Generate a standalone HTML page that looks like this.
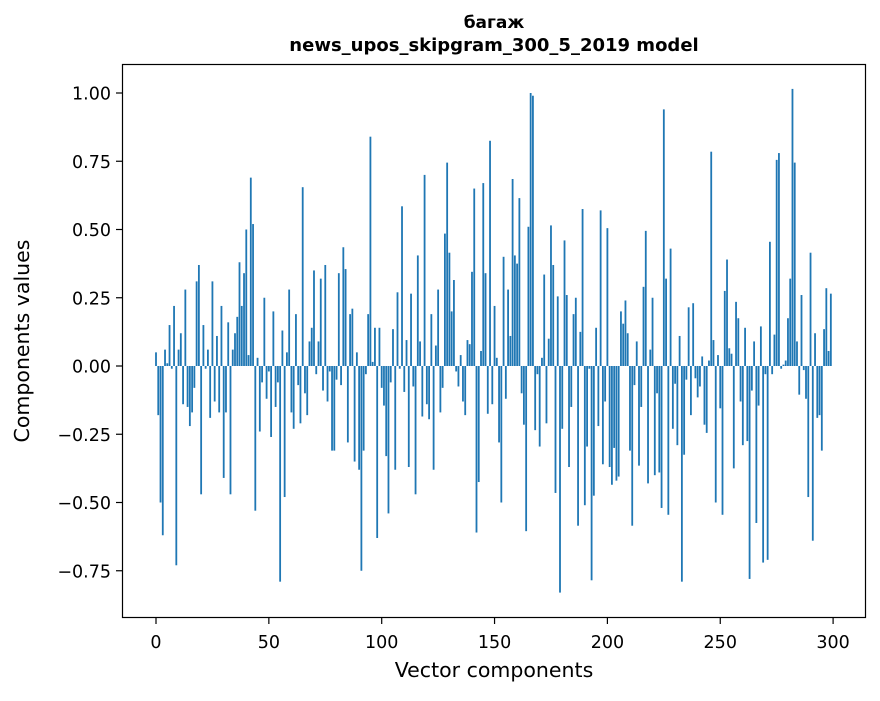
<!DOCTYPE html>
<html><head><meta charset="utf-8"><style>
body{margin:0;background:#fff;}
svg text{font-family:"DejaVu Sans","Liberation Sans",sans-serif;}
</style></head><body>
<svg id="chart" width="880" height="696" xmlns="http://www.w3.org/2000/svg">
<rect width="880" height="696" fill="#fff"/>
<text x="494" y="28" text-anchor="middle" font-size="17" font-weight="bold">багаж</text>
<text x="494" y="51" text-anchor="middle" font-size="18" font-weight="bold">news_upos_skipgram_300_5_2019 model</text>
<g id="bars"></g>
<g id="axes"></g>
<rect x="122.5" y="64.5" width="743" height="553" fill="none" stroke="#000" stroke-width="1.2"/>
<text x="494" y="677" text-anchor="middle" font-size="20.5">Vector components</text>
<text transform="translate(29,341) rotate(-90)" text-anchor="middle" font-size="20.5">Components values</text>
</svg>
<script>
const values = [0.05,-0.18,-0.50,-0.62,0.06,0.01,0.15,-0.01,0.22,-0.73,
0.06,0.12,-0.14,0.28,-0.15,-0.22,-0.17,-0.08,0.31,0.37,
-0.47,0.15,-0.01,0.06,-0.19,0.31,-0.13,0.11,-0.17,0.22,
-0.41,-0.17,0.16,-0.47,0.06,0.12,0.18,0.38,0.22,0.34,
0.50,0.04,0.69,0.52,-0.53,0.03,-0.24,-0.06,0.25,-0.12,
-0.02,-0.26,0.20,-0.15,-0.06,-0.79,0.13,-0.48,0.05,0.28,
-0.17,-0.23,0.19,-0.07,-0.21,0.655,-0.10,-0.18,0.09,0.14,
0.35,-0.03,0.09,0.32,-0.09,0.37,-0.13,-0.02,-0.31,-0.31,
-0.05,0.34,-0.07,0.435,0.355,-0.28,0.19,0.21,-0.35,0.05,
-0.38,-0.75,-0.31,-0.03,0.19,0.84,0.015,0.14,-0.63,0.14,
-0.08,-0.145,-0.33,-0.54,-0.06,0.135,-0.38,0.27,-0.01,0.585,
-0.095,0.095,-0.37,0.265,-0.075,-0.47,0.405,0.09,-0.185,0.70,
-0.14,-0.195,0.19,-0.38,0.075,0.28,-0.17,-0.08,0.485,0.745,
0.415,0.20,0.315,-0.02,-0.075,0.04,-0.13,-0.18,0.095,0.08,
0.345,0.65,-0.61,-0.425,0.055,0.67,0.34,-0.175,0.825,-0.14,
0.22,0.03,-0.28,-0.50,0.40,-0.12,0.28,0.11,0.685,0.405,
0.375,0.615,-0.10,-0.215,-0.605,0.51,1.00,0.99,-0.235,-0.03,
-0.295,0.03,0.335,-0.21,0.10,0.515,0.37,-0.465,0.255,-0.83,
-0.23,0.46,0.26,-0.37,-0.15,0.19,0.25,-0.585,0.125,0.575,
-0.51,-0.295,-0.01,-0.785,-0.475,0.14,-0.22,0.57,-0.36,-0.13,
0.505,-0.37,-0.435,-0.30,-0.42,-0.405,0.20,0.155,0.24,0.12,
-0.31,-0.585,-0.07,0.09,-0.365,-0.15,0.29,0.495,-0.43,0.06,
0.25,-0.40,-0.10,-0.39,-0.52,0.94,0.32,-0.545,0.43,-0.23,
-0.065,-0.29,0.11,-0.79,-0.325,-0.05,0.215,-0.18,0.23,-0.045,
-0.115,-0.075,0.035,-0.215,-0.245,0.02,0.785,0.095,-0.50,0.04,
-0.155,-0.545,0.275,0.39,0.065,0.045,-0.375,0.235,0.175,-0.13,
-0.29,0.14,-0.275,-0.78,-0.09,0.09,-0.575,-0.145,0.145,-0.72,
-0.03,-0.71,0.455,-0.03,0.115,0.755,0.78,-0.01,0.005,0.02,
0.175,0.32,1.015,0.745,0.09,-0.105,0.26,-0.015,-0.12,-0.48,
0.415,-0.64,0.12,-0.19,-0.18,-0.31,0.135,0.285,0.055,0.265];
const xTicks = [0,50,100,150,200,250,300];
const yTicks = [-0.75,-0.5,-0.25,0,0.25,0.5,0.75,1.0];
const yTickLabels = ["\u22120.75","\u22120.50","\u22120.25","0.00","0.25","0.50","0.75","1.00"];

const NS="http://www.w3.org/2000/svg";
const X0=156, XS=2.257, Y0=366, YS=273;
const sx=v=>X0+v*XS;
const sy=v=>Y0-v*YS;
const bars=document.getElementById('bars');
values.forEach((v,i)=>{
  const r=document.createElementNS(NS,'rect');
  const x1=sx(i-0.4), x2=sx(i+0.4);
  const ya=sy(Math.max(v,0)), yb=sy(Math.min(v,0));
  r.setAttribute('x',x1);r.setAttribute('width',x2-x1);
  r.setAttribute('y',ya);r.setAttribute('height',Math.max(yb-ya,0.3));
  r.setAttribute('fill','#1f77b4');
  
  
  bars.appendChild(r);
});
const axes=document.getElementById('axes');
xTicks.forEach(t=>{
  const l=document.createElementNS(NS,'line');
  l.setAttribute('x1',sx(t));l.setAttribute('x2',sx(t));
  l.setAttribute('y1',618);l.setAttribute('y2',624);l.setAttribute('stroke','#000');l.setAttribute('stroke-width','1.2');
  
  
  axes.appendChild(l);
  const tx=document.createElementNS(NS,'text');
  tx.setAttribute('x',sx(t));tx.setAttribute('y',648);tx.setAttribute('text-anchor','middle');tx.setAttribute('font-size','17.5');
  tx.textContent=t;
  
  
  axes.appendChild(tx);
});
yTicks.forEach((t,k)=>{
  const l=document.createElementNS(NS,'line');
  l.setAttribute('x1',116);l.setAttribute('x2',122);
  l.setAttribute('y1',sy(t));l.setAttribute('y2',sy(t));l.setAttribute('stroke','#000');l.setAttribute('stroke-width','1.2');
  
  
  axes.appendChild(l);
  const tx=document.createElementNS(NS,'text');
  tx.setAttribute('x',111);tx.setAttribute('y',sy(t)+6.5);tx.setAttribute('text-anchor','end');tx.setAttribute('font-size','17.5');
  tx.textContent=yTickLabels[k];
  
  
  axes.appendChild(tx);
});
</script>
</body></html>
